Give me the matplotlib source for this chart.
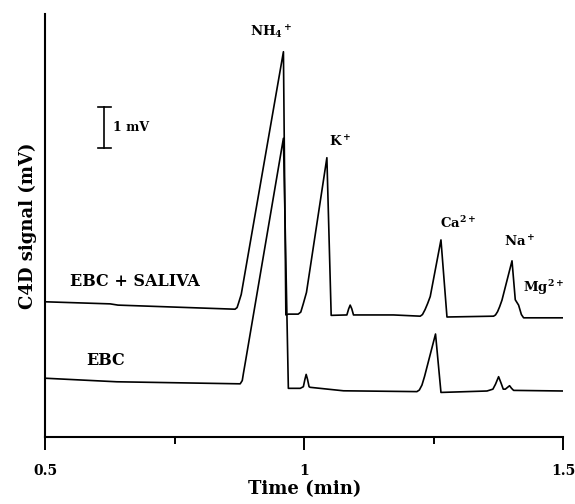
import matplotlib
matplotlib.use('Agg')
import matplotlib.pyplot as plt

plt.rcParams['font.family'] = 'DejaVu Serif'
plt.rcParams['font.weight'] = 'bold'
plt.rcParams['mathtext.fontset'] = 'custom'
plt.rcParams['mathtext.rm'] = 'DejaVu Serif:bold'
plt.rcParams['mathtext.default'] = 'rm'

# EBC + SALIVA trace (time in min, signal in mV)
saliva_t = [0.502, 0.625, 0.640, 0.866, 0.870, 0.8726, 0.878, 0.9595, 0.9642, 0.969,
            0.988, 0.993, 0.998, 1.004, 1.0434, 1.0517, 1.082, 1.0855, 1.0884, 1.0915,
            1.0948, 1.172, 1.2237, 1.228, 1.233, 1.238, 1.243, 1.2637, 1.2753, 1.3653,
            1.369, 1.373, 1.377, 1.3815, 1.4009, 1.4072, 1.4136, 1.419, 1.4233, 1.5006]
saliva_y = [3.37, 3.32, 3.29, 3.19, 3.23, 3.33, 3.55, 9.47, 3.05, 3.07,
            3.07, 3.12, 3.33, 3.60, 6.885, 3.04, 3.05, 3.20, 3.29, 3.20,
            3.05, 3.05, 3.02, 3.06, 3.18, 3.33, 3.50, 4.88, 3.00, 3.02,
            3.05, 3.13, 3.25, 3.41, 4.37, 3.42, 3.29, 3.06, 2.98, 2.98]

# EBC trace
ebc_t = [0.502, 0.6376, 0.876, 0.880, 0.8823, 0.886, 0.9595, 0.969, 0.992, 0.998,
         1.001, 1.0034, 1.006, 1.009, 1.011, 1.0755, 1.2173, 1.222, 1.227, 1.232,
         1.2532, 1.2637, 1.3526, 1.364, 1.369, 1.375, 1.380, 1.384, 1.388, 1.3962,
         1.400, 1.404, 1.5006]
ebc_y = [1.505, 1.42, 1.37, 1.45, 1.63, 1.90, 7.36, 1.26, 1.26, 1.30,
         1.48, 1.60, 1.48, 1.30, 1.285, 1.20, 1.18, 1.22, 1.34, 1.55,
         2.585, 1.16, 1.195, 1.24, 1.36, 1.544, 1.38, 1.24, 1.24, 1.324,
         1.26, 1.21, 1.195]

# peak labels
peak_labels = ['NH$_4$$^+$', 'K$^+$', 'Ca$^{2+}$', 'Na$^+$', 'Mg$^{2+}$']
peak_label_t = [0.9355, 1.0688, 1.2966, 1.4164, 1.4627]
peak_label_y = [9.95, 7.27, 5.29, 4.83, 3.73]

fig = plt.figure(figsize=(5.75, 5.04), dpi=100)
ax = fig.add_axes([0.0791, 0.1335, 0.9006, 0.8387])

ax.plot(saliva_t, saliva_y, color='black', lw=1.2)
ax.plot(ebc_t, ebc_y, color='black', lw=1.2)

for lab, t, y in zip(peak_labels, peak_label_t, peak_label_y):
    ax.text(t, y, lab, ha='center', va='center', fontsize=9.5, fontweight='bold')

ax.text(0.6723, 3.86, 'EBC + SALIVA', ha='center', va='center', fontsize=11.5, fontweight='bold')
ax.text(0.6168, 1.93, 'EBC', ha='center', va='center', fontsize=11.5, fontweight='bold')

# 1 mV scale bar
bar_t, bar_y0, bar_len, cap = 0.6136, 7.13, 1.0, 0.0126
ax.plot([bar_t, bar_t], [bar_y0, bar_y0 + bar_len], color='black', lw=1.2)
ax.plot([bar_t - cap, bar_t + cap], [bar_y0, bar_y0], color='black', lw=1.2)
ax.plot([bar_t - cap, bar_t + cap], [bar_y0 + bar_len, bar_y0 + bar_len], color='black', lw=1.2)
ax.text(0.6304, 7.61, '1 mV', ha='left', va='center', fontsize=9, fontweight='bold')

ax.set_xlim(0.5, 1.5)
ax.set_ylim(0.08, 10.39)
ax.set_xticks([0.5, 1, 1.5])
ax.set_xticklabels(['0.5', '1', '1.5'])
ax.set_xticks([0.75, 1.25], minor=True)
ax.set_yticks([])
ax.tick_params(axis='x', which='major', length=9.5, width=1.4, labelsize=10, pad=10)
ax.tick_params(axis='x', which='minor', length=5, width=1.4)
for s in ['top', 'right']:
    ax.spines[s].set_visible(False)
for s in ['left', 'bottom']:
    ax.spines[s].set_linewidth(1.5)

ax.set_xlabel('Time (min)', fontsize=13, fontweight='bold', labelpad=2)
ax.set_ylabel('C4D signal (mV)', fontsize=13, fontweight='bold', labelpad=6)

plt.savefig('out.png', dpi=100)
